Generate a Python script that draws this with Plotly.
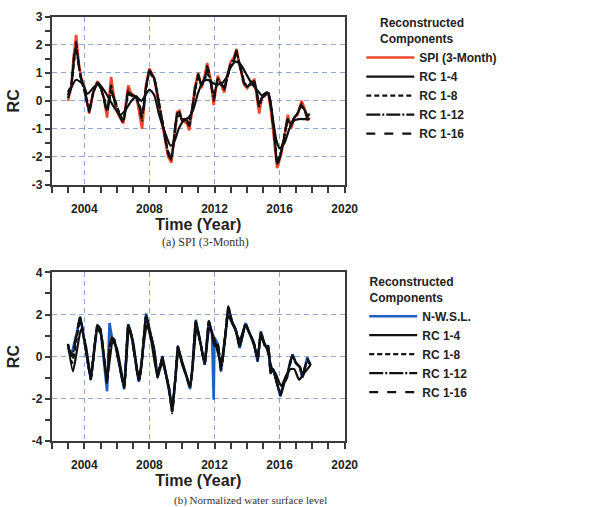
import plotly.graph_objects as go

# ---------------- Panel (a): SPI (3-Month) ----------------
spi_t = [2003.0, 2003.2, 2003.35, 2003.5, 2003.65, 2003.8, 2004.0, 2004.3, 2004.55, 2004.8,
         2005.0, 2005.2, 2005.4, 2005.65, 2005.9, 2006.1, 2006.4, 2006.7, 2006.85, 2007.0,
         2007.2, 2007.35, 2007.55, 2007.8, 2008.0, 2008.3, 2008.6, 2008.9, 2009.15, 2009.35,
         2009.5, 2009.7, 2009.85, 2010.0, 2010.3, 2010.45, 2010.6, 2010.8, 2011.0, 2011.2,
         2011.4, 2011.55, 2011.75, 2011.95, 2012.2, 2012.4, 2012.6, 2012.8, 2013.0, 2013.2,
         2013.35, 2013.5, 2013.8, 2014.0, 2014.3, 2014.45, 2014.6, 2014.75, 2014.9, 2015.1,
         2015.3, 2015.5, 2015.7, 2015.85, 2016.1, 2016.3, 2016.5, 2016.7, 2016.9, 2017.1,
         2017.35, 2017.55, 2017.7, 2017.85]
spi_v = [0.0, 0.5, 1.6, 2.35, 1.4, 0.85, 0.5, -0.45, 0.3, 0.7,
         0.5, 0.1, -0.6, 0.85, -0.2, -0.5, -0.8, 0.55, 0.3, 0.2,
         0.15, -0.3, -1.0, 0.6, 1.15, 0.8, -0.2, -1.2, -2.0, -2.2,
         -1.4, -0.4, -0.35, -0.7, -0.8, -1.05, -0.45, 0.5, 1.0, 0.45,
         0.9, 1.35, 0.8, -0.15, 0.9, 0.6, 0.3, 0.9, 1.4, 1.55,
         1.85, 1.4, 0.6, 0.45, 0.7, 0.75, 0.2, -0.45, 0.1, 0.2,
         0.3, -0.5, -1.5, -2.4, -1.9, -1.3, -0.5, -1.0, -0.6, -0.5,
         0.0, -0.3, -0.7, -0.6]
a_rc16 = [0.1, 0.5, 1.5, 2.1, 1.3, 0.8, 0.45, -0.4, 0.3, 0.7,
          0.5, 0.1, -0.45, 0.55, -0.1, -0.45, -0.8, 0.4, 0.3, 0.2,
          0.15, -0.2, -0.7, 0.55, 1.1, 0.8, -0.15, -1.1, -1.9, -2.1,
          -1.4, -0.45, -0.4, -0.7, -0.75, -0.9, -0.45, 0.4, 0.95, 0.5,
          0.85, 1.25, 0.8, 0.0, 0.8, 0.6, 0.4, 0.9, 1.35, 1.5,
          1.8, 1.4, 0.65, 0.5, 0.7, 0.7, 0.25, -0.3, 0.1, 0.2,
          0.3, -0.4, -1.4, -2.3, -1.85, -1.3, -0.6, -0.9, -0.6, -0.45,
          -0.1, -0.3, -0.6, -0.4]
a_rc12 = [0.2, 0.5, 1.4, 2.0, 1.3, 0.8, 0.4, -0.35, 0.3, 0.65,
          0.5, 0.1, -0.35, 0.4, -0.05, -0.4, -0.75, 0.3, 0.25, 0.2,
          0.1, -0.15, -0.55, 0.5, 1.05, 0.8, -0.1, -1.1, -1.85, -2.05,
          -1.4, -0.5, -0.45, -0.7, -0.7, -0.8, -0.4, 0.4, 0.9, 0.55,
          0.8, 1.15, 0.75, 0.1, 0.75, 0.6, 0.45, 0.9, 1.3, 1.5,
          1.75, 1.4, 0.7, 0.5, 0.65, 0.65, 0.3, -0.2, 0.1, 0.2,
          0.3, -0.35, -1.3, -2.25, -1.8, -1.25, -0.65, -0.85, -0.6, -0.45,
          -0.15, -0.35, -0.55, -0.45]
a_rc8 = [0.3, 0.6, 1.3, 1.9, 1.3, 0.8, 0.35, -0.3, 0.3, 0.6,
         0.45, 0.1, -0.25, 0.25, 0.0, -0.35, -0.7, 0.2, 0.2, 0.15,
         0.1, -0.1, -0.4, 0.45, 1.0, 0.75, -0.1, -1.05, -1.8, -2.0,
         -1.45, -0.6, -0.5, -0.65, -0.65, -0.7, -0.4, 0.35, 0.85, 0.6,
         0.75, 1.0, 0.7, 0.2, 0.65, 0.6, 0.5, 0.85, 1.25, 1.45,
         1.7, 1.4, 0.75, 0.5, 0.6, 0.6, 0.3, -0.1, 0.1, 0.2,
         0.3, -0.3, -1.2, -2.2, -1.8, -1.2, -0.7, -0.8, -0.6, -0.45,
         -0.2, -0.35, -0.5, -0.45]
a_rc4_t = [2003.0, 2003.5, 2003.9, 2004.2, 2004.6, 2004.9, 2005.3, 2005.8, 2006.2, 2006.5,
           2006.9, 2007.2, 2007.5, 2008.0, 2008.3, 2008.6, 2009.0, 2009.3, 2009.5, 2009.8,
           2010.1, 2010.4, 2010.7, 2011.0, 2011.3, 2011.6, 2012.0, 2012.4, 2012.7, 2013.0,
           2013.3, 2013.6, 2014.0, 2014.3, 2014.6, 2014.9, 2015.2, 2015.4, 2015.6, 2015.8,
           2016.0, 2016.3, 2016.6, 2016.9, 2017.2, 2017.5, 2017.85]
a_rc4 = [0.2, 0.75, 0.6, 0.25, 0.5, 0.6, 0.3, -0.2, -0.5, -0.35,
         0.0, 0.15, 0.0, 0.4, 0.2, -0.5, -1.2, -1.6, -1.5, -1.0,
         -0.7, -0.6, -0.3, 0.3, 0.7, 0.75, 0.6, 0.6, 0.8, 1.2,
         1.4, 1.3, 0.9, 0.6, 0.4, 0.2, 0.3, 0.1, -0.7, -1.4,
         -1.7, -1.5, -1.0, -0.7, -0.65, -0.65, -0.65]

# ---------------- Panel (b): Normalized water surface level ----------------
wsl_t = [2003.0, 2003.25, 2003.5, 2003.75, 2004.1, 2004.4, 2004.8, 2005.0, 2005.4, 2005.55,
         2005.7, 2005.85, 2006.45, 2006.7, 2006.9, 2007.35, 2007.5, 2007.8, 2008.0, 2008.3,
         2008.5, 2008.8, 2008.95, 2009.2, 2009.4, 2009.6, 2009.75, 2010.0, 2010.3, 2010.5,
         2010.65, 2010.85, 2011.1, 2011.4, 2011.65, 2011.85, 2011.95, 2012.0, 2012.2, 2012.4,
         2012.6, 2012.85, 2013.1, 2013.3, 2013.55, 2013.9, 2014.1, 2014.4, 2014.65, 2014.85,
         2015.1, 2015.3, 2015.45, 2015.6, 2015.75, 2016.05, 2016.3, 2016.45, 2016.6, 2016.8,
         2017.0, 2017.25, 2017.4, 2017.7, 2017.9]
wsl_v = [0.3, 0.2, 1.0, 1.9, 0.3, -1.1, 1.5, 1.3, -1.65, 1.6,
         0.9, 0.8, -1.55, 1.55, 1.0, -1.2, -0.5, 2.05, 1.3, 0.3,
         -1.0, 0.0, -0.6, -1.5, -2.5, -1.0, 0.5, -0.3, -1.0, -1.55,
         -0.5, 1.75, 0.8, -0.4, 1.7, 1.1, -2.05, 0.9, 0.6, -0.7,
         0.5, 2.3, 1.6, 1.3, 0.4, 1.6, 1.2, 0.7, -0.25, 1.2,
         0.5, 0.5, -0.8, -0.6, -1.0, -1.9, -1.2, -1.0, -0.4, 0.1,
         -0.3, -0.5, -1.0, -0.05, -0.4]
b_rc16 = [0.4, 0.1, 1.0, 1.9, 0.3, -1.1, 1.5, 1.3, -1.3, 0.6,
          0.9, 0.8, -1.5, 1.55, 1.0, -1.2, -0.5, 2.0, 1.3, 0.3,
          -1.0, 0.0, -0.6, -1.5, -2.6, -1.0, 0.5, -0.3, -1.0, -1.5,
          -0.5, 1.7, 0.8, -0.4, 1.7, 1.1, 0.6, 0.5, 0.6, -0.7,
          0.5, 2.4, 1.6, 1.3, 0.45, 1.6, 1.2, 0.7, -0.2, 1.2,
          0.5, 0.5, -0.8, -0.6, -1.0, -1.85, -1.2, -1.0, -0.4, 0.1,
          -0.3, -0.5, -1.0, -0.1, -0.4]
b_rc12 = [0.5, 0.0, 0.9, 1.85, 0.3, -1.05, 1.45, 1.25, -1.25, 0.5,
          0.85, 0.75, -1.45, 1.5, 1.0, -1.15, -0.5, 1.95, 1.3, 0.3,
          -0.9, -0.05, -0.6, -1.5, -2.7, -1.0, 0.45, -0.3, -1.0, -1.45,
          -0.5, 1.65, 0.8, -0.35, 1.65, 1.1, 0.65, 0.5, 0.55, -0.6,
          0.5, 2.35, 1.6, 1.3, 0.5, 1.55, 1.2, 0.7, -0.15, 1.15,
          0.5, 0.5, -0.75, -0.6, -1.0, -1.8, -1.2, -1.0, -0.45, 0.05,
          -0.3, -0.5, -0.95, -0.15, -0.4]
b_rc8 = [0.6, -0.3, 0.7, 1.75, 0.3, -1.0, 1.4, 1.2, -1.2, 0.3,
         0.8, 0.7, -1.4, 1.45, 1.0, -1.1, -0.5, 1.9, 1.3, 0.3,
         -0.8, -0.1, -0.6, -1.45, -2.6, -1.0, 0.4, -0.3, -1.0, -1.4,
         -0.5, 1.6, 0.8, -0.3, 1.6, 1.1, 0.7, 0.6, 0.5, -0.5,
         0.5, 2.2, 1.6, 1.3, 0.55, 1.5, 1.2, 0.7, -0.1, 1.1,
         0.5, 0.4, -0.7, -0.65, -1.0, -1.7, -1.25, -1.0, -0.5, 0.0,
         -0.3, -0.5, -0.9, -0.2, -0.4]
b_rc4_t = [2003.0, 2003.3, 2003.55, 2003.8, 2004.1, 2004.4, 2004.8, 2005.0, 2005.4, 2005.75,
           2006.0, 2006.45, 2006.75, 2007.0, 2007.35, 2007.85, 2008.1, 2008.5, 2008.8, 2009.0,
           2009.4, 2009.8, 2010.0, 2010.5, 2010.9, 2011.15, 2011.4, 2011.7, 2012.0, 2012.4,
           2012.85, 2013.2, 2013.55, 2013.9, 2014.3, 2014.65, 2014.85, 2015.2, 2015.55, 2015.75,
           2016.1, 2016.4, 2016.65, 2016.9, 2017.2, 2017.5, 2017.9]
b_rc4 = [0.6, -0.7, 0.3, 1.3, 0.5, -0.9, 1.3, 1.1, -1.0, 0.7,
         0.4, -1.3, 1.3, 0.7, -1.0, 1.5, 0.8, -0.9, -0.3, -0.8,
         -2.3, 0.3, -0.2, -1.3, 1.3, 0.6, -0.3, 1.4, 0.8, -0.3,
         1.9, 1.4, 0.8, 1.5, 0.8, 0.1, 0.9, 0.4, -0.6, -0.8,
         -1.4, -0.9, -0.6, -0.6, -1.1, -0.8, -0.4]

x_ticks = [2004, 2008, 2012, 2016, 2020]
a_yticks = [-3, -2, -1, 0, 1, 2, 3]
b_yticks = [-4, -2, 0, 2, 4]

W, H = 595, 507
FONT = "Liberation Sans, Arial, sans-serif"
BLACK = "#111111"
GRID = "rgba(110,135,200,0.75)"
AX = "#3a3a3a"
TXT = "#222222"
NB = "\u00a0"

fig = go.Figure()

def add_panel(xa, ya, legend, obs_name, obs_t, obs_v, obs_color, rc4_t, rc4, rc8, rc12, rc16):
    fig.add_trace(go.Scatter(x=obs_t, y=obs_v, name=obs_name, mode="lines",
                             line=dict(color=obs_color, width=2.6),
                             xaxis=xa, yaxis=ya, legend=legend))
    fig.add_trace(go.Scatter(x=rc4_t, y=rc4, name="RC 1-4", mode="lines",
                             line=dict(color=BLACK, width=2.2, shape="spline", smoothing=0.6),
                             xaxis=xa, yaxis=ya, legend=legend))
    fig.add_trace(go.Scatter(x=obs_t, y=rc8, name="RC 1-8", mode="lines",
                             line=dict(color=BLACK, width=2.2, dash="5px,3px", shape="spline", smoothing=0.5),
                             xaxis=xa, yaxis=ya, legend=legend))
    fig.add_trace(go.Scatter(x=obs_t, y=rc12, name="RC 1-12", mode="lines",
                             line=dict(color=BLACK, width=2.2, dash="14px,2px,2px,2px", shape="spline", smoothing=0.4),
                             xaxis=xa, yaxis=ya, legend=legend))
    fig.add_trace(go.Scatter(x=obs_t, y=rc16, name="RC 1-16", mode="lines",
                             line=dict(color=BLACK, width=2.2, dash="9px,9px", shape="spline", smoothing=0.3),
                             xaxis=xa, yaxis=ya, legend=legend))

add_panel("x", "y", "legend", "SPI (3-Month)", spi_t, spi_v, "#ee4a2e",
          a_rc4_t, a_rc4, a_rc8, a_rc12, a_rc16)
add_panel("x2", "y2", "legend2", "N-W.S.L.", wsl_t, wsl_v, "#2060c0",
          b_rc4_t, b_rc4, b_rc8, b_rc12, b_rc16)

def xaxis_cfg(dom_y_anchor):
    return dict(
        domain=[53 / W, 353 / W], range=[2002, 2020], anchor=dom_y_anchor,
        tickmode="array", tickvals=x_ticks, ticktext=[str(v) for v in x_ticks],
        ticks="outside", ticklen=6, tickwidth=1.5, tickcolor=AX,
        minor=dict(dtick=1, tick0=2002, ticks="outside", ticklen=6, tickwidth=1.5, tickcolor=AX, showgrid=False),
        showgrid=True, gridcolor=GRID, griddash="5px,4px", gridwidth=1,
        zeroline=False, showline=True, linecolor=AX, linewidth=2, mirror=True,
        tickfont=dict(family=FONT, size=12, color=TXT, weight="bold"),
        ticklabelstandoff=6,
        title=dict(text="Time (Year)", font=dict(family=FONT, size=16, color=TXT, weight="bold"), standoff=2),
    )

def yaxis_cfg(dom, rng, ticks, minor_dtick, anchor):
    return dict(
        domain=dom, range=rng, anchor=anchor,
        tickmode="array", tickvals=ticks, ticktext=[str(v) for v in ticks],
        ticks="outside", ticklen=5, tickwidth=1.5, tickcolor=AX,
        minor=dict(dtick=minor_dtick, tick0=0, ticks="outside", ticklen=5, tickwidth=1.5, tickcolor=AX, showgrid=False),
        showgrid=True, gridcolor=GRID, griddash="5px,4px", gridwidth=1,
        zeroline=False, showline=True, linecolor=AX, linewidth=2, mirror=True,
        tickfont=dict(family=FONT, size=12, color=TXT, weight="bold"),
        title=dict(text="RC", font=dict(family=FONT, size=16, color=TXT, weight="bold"), standoff=8),
    )

legend_common = dict(
    xanchor="left", yanchor="top", itemwidth=48,
    font=dict(family=FONT, size=12, color=TXT, weight="bold"),
    bgcolor="rgba(0,0,0,0)", borderwidth=0, tracegroupgap=0,
    itemclick=False, itemdoubleclick=False,
)
title_font = dict(family=FONT, size=12, color=TXT, weight="bold")

fig.update_layout(
    width=W, height=H, margin=dict(l=0, r=0, t=0, b=0),
    paper_bgcolor="white", plot_bgcolor="white",
    xaxis=xaxis_cfg("y"),
    yaxis=yaxis_cfg([1 - 183 / H, 1 - 10 / H], [-3, 3], a_yticks, 0.5, "x"),
    xaxis2=xaxis_cfg("y2"),
    yaxis2=yaxis_cfg([1 - 446 / H, 1 - 273 / H], [-4, 4], b_yticks, 1, "x2"),
    legend=dict(x=370 / W, y=1 - 5 / H,
                title=dict(text=NB * 5 + "Reconstructed<br>" + NB * 5 + "Components", font=title_font),
                **legend_common),
    legend2=dict(x=373 / W, y=1 - 271 / H,
                 title=dict(text=NB + "Reconstructed<br>" + NB + "Components", font=title_font),
                 **legend_common),
    showlegend=True,
)

fig.add_annotation(text="(a) SPI (3-Month)", xref="paper", yref="paper",
                   x=210 / W, y=1 - 242 / H, xanchor="center", yanchor="middle", showarrow=False,
                   font=dict(family="Liberation Serif, Times New Roman, serif", size=12, color="#333"))
fig.add_annotation(text="(b) Normalized water surface level", xref="paper", yref="paper",
                   x=257 / W, y=1 - 507 / H, xanchor="center", yanchor="middle", showarrow=False,
                   font=dict(family="Liberation Serif, Times New Roman, serif", size=11, color="#333"))

fig.write_html("out.html")
